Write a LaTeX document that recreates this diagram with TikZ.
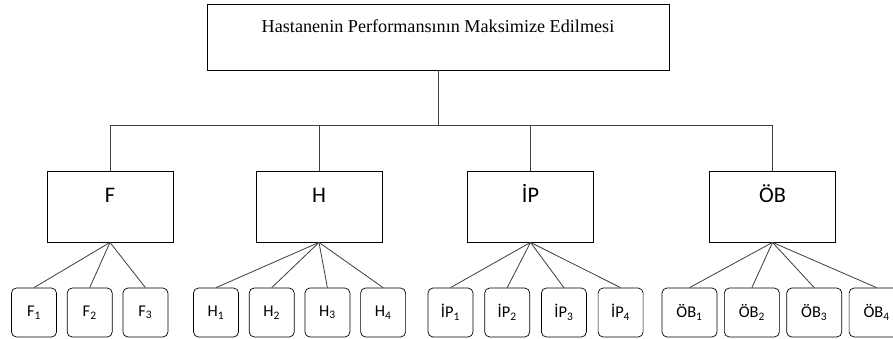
\documentclass[tikz,border=0pt]{standalone}
\usepackage{fontspec}
\setmainfont{Liberation Serif}
\newfontfamily\calibri{Carlito}
\usetikzlibrary{positioning}
\tikzset{%
       goal/.style = { draw, line width=0.7pt, minimum width=13.86cm, minimum height=1.98cm,
                       text height=12pt, text depth=19pt, font=\fontsize{15.5}{18}\selectfont },
  criterion/.style = { draw, line width=0.7pt, minimum width=3.78cm, minimum height=2.13cm,
                       text height=13pt, text depth=19pt, font=\calibri\fontsize{19}{22}\selectfont },
       leaf/.style = { draw, line width=0.6pt, rounded corners=1.5mm, minimum width=1.35cm,
                       minimum height=1.47cm, inner sep=0pt, font=\calibri\fontsize{14}{16}\selectfont },
   wideleaf/.style = { leaf, minimum width=1.65cm },
       link/.style = { draw=black!75, line width=0.7pt }
}

\begin{document}
\begin{tikzpicture}[x=0.03cm,y=-0.03cm]
  \useasboundingbox (0,0) rectangle (893,339);

  % goal and criteria
  \node[goal] (goal) at (438,37) {Hastanenin Performansının Maksimize Edilmesi};
  \node[criterion] (F)  at (110,206.5)   {F};
  \node[criterion] (H)  at (319,206.5)   {H};
  \node[criterion] (IP) at (530.5,206.5) {İP};
  \node[criterion] (OB) at (772.5,206.5) {ÖB};
  \coordinate (bus) at (438,125);

  % sub-criteria
  \node[leaf] (F1) at (34,312.5) {F\textsubscript{1}};
  \node[leaf, right=0.3cm of F1] (F2) {F\textsubscript{2}};
  \node[leaf, right=0.3cm of F2] (F3) {F\textsubscript{3}};

  \node[leaf] (H1) at (216,312.5) {H\textsubscript{1}};
  \node[leaf, right=0.3cm of H1] (H2) {H\textsubscript{2}};
  \node[leaf, right=0.3cm of H2] (H3) {H\textsubscript{3}};
  \node[leaf, right=0.3cm of H3] (H4) {H\textsubscript{4}};

  \node[leaf] (IP1) at (450.5,312.5) {İP\textsubscript{1}};
  \node[leaf, right=0.33cm of IP1] (IP2) {İP\textsubscript{2}};
  \node[leaf, right=0.33cm of IP2] (IP3) {İP\textsubscript{3}};
  \node[leaf, right=0.33cm of IP3] (IP4) {İP\textsubscript{4}};

  \node[wideleaf] (OB1) at (689.5,312.5) {ÖB\textsubscript{1}};
  \node[wideleaf, right=0.2cm of OB1] (OB2) {ÖB\textsubscript{2}};
  \node[wideleaf, right=0.2cm of OB2] (OB3) {ÖB\textsubscript{3}};
  \node[wideleaf, right=0.2cm of OB3] (OB4) {ÖB\textsubscript{4}};

  % connectors
  \draw[link] (goal.south) -- (bus);
  \draw[link] (F.north |- bus) -- (OB.north |- bus);
  \draw[link] (F.north) -- (F.north |- bus);
  \draw[link] (H.north) -- (H.north |- bus);
  \draw[link] (IP.north) -- (IP.north |- bus);
  \draw[link] (OB.north) -- (OB.north |- bus);

  \draw[link] (F.south) -- (F1.north);
  \draw[link] (F.south) -- (F2.north);
  \draw[link] (F.south) -- (F3.north);
  \draw[link] (H.south) -- (H1.north);
  \draw[link] (H.south) -- (H2.north);
  \draw[link] (H.south) -- (H3.north);
  \draw[link] (H.south) -- (H4.north);
  \draw[link] (IP.south) -- (IP1.north);
  \draw[link] (IP.south) -- (IP2.north);
  \draw[link] (IP.south) -- (IP3.north);
  \draw[link] (IP.south) -- (IP4.north);
  \draw[link] (OB.south) -- (OB1.north);
  \draw[link] (OB.south) -- (OB2.north);
  \draw[link] (OB.south) -- (OB3.north);
  \draw[link] (OB.south) -- (OB4.north);
\end{tikzpicture}
\end{document}
